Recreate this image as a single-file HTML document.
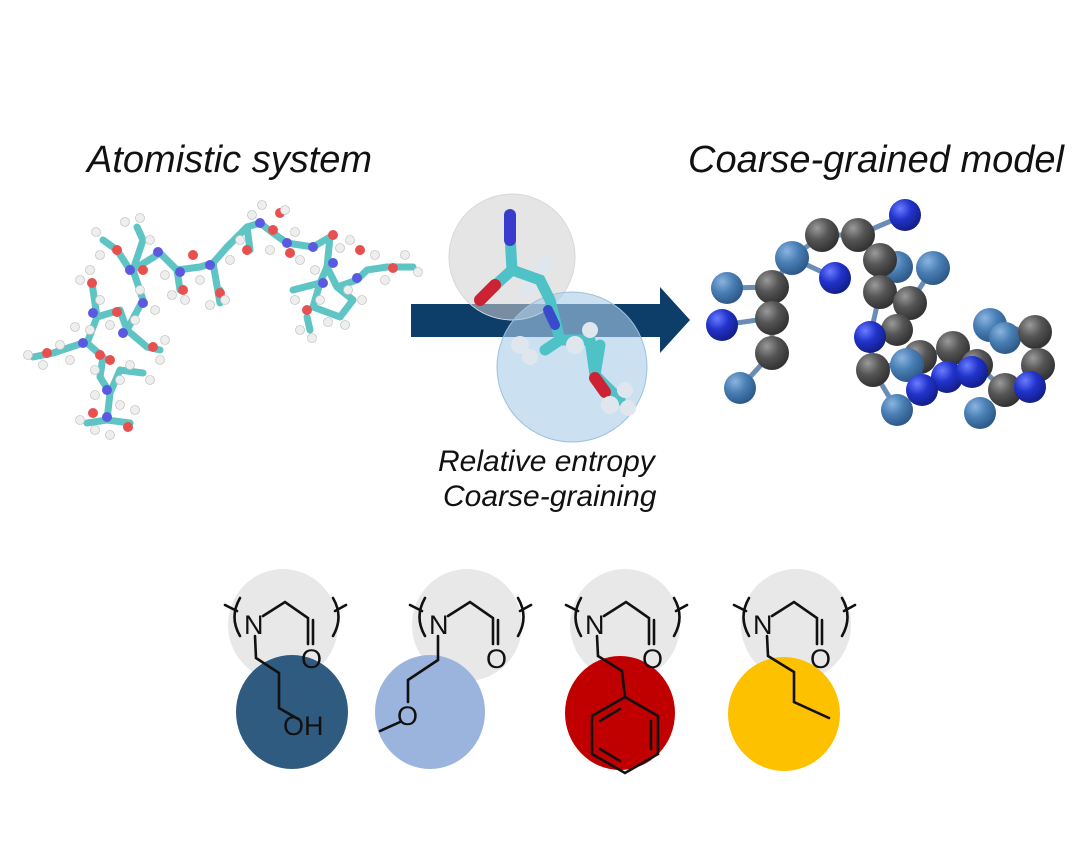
<!DOCTYPE html>
<html><head><meta charset="utf-8"><style>
html,body{margin:0;padding:0;background:#fff;}
svg{display:block}
text{font-family:"Liberation Sans",sans-serif}
</style></head><body>
<svg width="1089" height="853" viewBox="0 0 1089 853" xmlns="http://www.w3.org/2000/svg">
<defs>
<radialGradient id="gg" cx="35%" cy="30%" r="70%"><stop offset="0" stop-color="#9a9a9a"/><stop offset="0.5" stop-color="#555"/><stop offset="1" stop-color="#333"/></radialGradient>
<radialGradient id="sb" cx="35%" cy="30%" r="70%"><stop offset="0" stop-color="#8ab4e0"/><stop offset="0.5" stop-color="#4a7fb5"/><stop offset="1" stop-color="#2e5a8a"/></radialGradient>
<radialGradient id="rb" cx="35%" cy="30%" r="70%"><stop offset="0" stop-color="#6a7cff"/><stop offset="0.5" stop-color="#2233cc"/><stop offset="1" stop-color="#131f8a"/></radialGradient>
</defs>

<text x="87" y="172" font-size="38" font-style="italic" fill="#111">Atomistic system</text>
<text x="688" y="172" font-size="38" font-style="italic" fill="#111">Coarse-grained model</text>

<!-- atomistic cluster -->
<g stroke-linecap="round" stroke-linejoin="round" fill="none" stroke="#5ec4c4" stroke-width="7">
<path d="M130,423 L107,420 L110,393 L100,377 L103,357 L87,343 L97,317 L120,310 L127,330 L143,300 L133,270 L160,253 L177,270 L200,267 L213,263 L227,247 L247,227 L260,223 L273,233 L287,243 L313,247 L330,237 L327,267 L337,287 L357,280 L367,270 L387,267 L413,267"/>
<path d="M33,357 L53,353 L83,343"/>
<path d="M103,240 L117,250 L130,270 M137,227 L143,240 L133,270"/>
<path d="M293,290 L320,283 L313,307 L340,317 L353,300 L337,287 M307,317 L310,330 M320,283 L327,267"/>
<path d="M180,290 L177,270 M220,290 L220,303 L213,263 M250,250 L247,227"/>
<path d="M147,347 L160,350 M127,330 L147,347 M120,370 L143,373 M110,393 L120,370 M87,423 L107,420 M92,283 L97,317"/>
</g>
<g fill="#e85050">
<circle cx="92" cy="283" r="5"/><circle cx="117" cy="250" r="5"/><circle cx="143" cy="270" r="5"/><circle cx="193" cy="255" r="5"/><circle cx="183" cy="290" r="5"/><circle cx="220" cy="293" r="5"/><circle cx="247" cy="250" r="5"/><circle cx="273" cy="230" r="5"/><circle cx="280" cy="213" r="5"/><circle cx="290" cy="253" r="5"/><circle cx="333" cy="235" r="5"/><circle cx="360" cy="250" r="5"/><circle cx="307" cy="310" r="5"/><circle cx="393" cy="268" r="5"/><circle cx="117" cy="312" r="5"/><circle cx="153" cy="347" r="5"/><circle cx="47" cy="353" r="5"/><circle cx="100" cy="355" r="5"/><circle cx="110" cy="360" r="5"/><circle cx="128" cy="427" r="5"/><circle cx="93" cy="413" r="5"/>
</g>
<g fill="#5a5ae0">
<circle cx="130" cy="270" r="5"/><circle cx="158" cy="252" r="5"/><circle cx="180" cy="272" r="5"/><circle cx="210" cy="265" r="5"/><circle cx="260" cy="223" r="5"/><circle cx="287" cy="243" r="5"/><circle cx="313" cy="247" r="5"/><circle cx="333" cy="263" r="5"/><circle cx="357" cy="278" r="5"/><circle cx="323" cy="283" r="5"/><circle cx="93" cy="313" r="5"/><circle cx="123" cy="333" r="5"/><circle cx="83" cy="343" r="5"/><circle cx="107" cy="390" r="5"/><circle cx="107" cy="417" r="5"/><circle cx="143" cy="303" r="5"/>
</g>
<g fill="#eeeeee" stroke="#c8c8c8" stroke-width="0.8">
<circle cx="28" cy="355" r="4.5"/><circle cx="43" cy="365" r="4.5"/><circle cx="60" cy="345" r="4.5"/><circle cx="70" cy="360" r="4.5"/><circle cx="75" cy="327" r="4.5"/><circle cx="80" cy="280" r="4.5"/><circle cx="90" cy="270" r="4.5"/><circle cx="96" cy="232" r="4.5"/><circle cx="100" cy="255" r="4.5"/><circle cx="125" cy="222" r="4.5"/><circle cx="140" cy="218" r="4.5"/><circle cx="150" cy="240" r="4.5"/><circle cx="165" cy="275" r="4.5"/><circle cx="172" cy="295" r="4.5"/><circle cx="185" cy="300" r="4.5"/><circle cx="200" cy="280" r="4.5"/><circle cx="210" cy="305" r="4.5"/><circle cx="225" cy="300" r="4.5"/><circle cx="230" cy="260" r="4.5"/><circle cx="240" cy="240" r="4.5"/><circle cx="252" cy="215" r="4.5"/><circle cx="262" cy="205" r="4.5"/><circle cx="285" cy="210" r="4.5"/><circle cx="295" cy="232" r="4.5"/><circle cx="270" cy="250" r="4.5"/><circle cx="300" cy="260" r="4.5"/><circle cx="295" cy="300" r="4.5"/><circle cx="300" cy="330" r="4.5"/><circle cx="312" cy="338" r="4.5"/><circle cx="320" cy="300" r="4.5"/><circle cx="328" cy="322" r="4.5"/><circle cx="345" cy="325" r="4.5"/><circle cx="348" cy="290" r="4.5"/><circle cx="350" cy="240" r="4.5"/><circle cx="362" cy="300" r="4.5"/><circle cx="315" cy="270" r="4.5"/><circle cx="340" cy="248" r="4.5"/><circle cx="375" cy="255" r="4.5"/><circle cx="385" cy="280" r="4.5"/><circle cx="405" cy="255" r="4.5"/><circle cx="418" cy="272" r="4.5"/><circle cx="100" cy="300" r="4.5"/><circle cx="110" cy="325" r="4.5"/><circle cx="135" cy="320" r="4.5"/><circle cx="140" cy="290" r="4.5"/><circle cx="155" cy="310" r="4.5"/><circle cx="160" cy="360" r="4.5"/><circle cx="165" cy="340" r="4.5"/><circle cx="90" cy="330" r="4.5"/><circle cx="95" cy="370" r="4.5"/><circle cx="120" cy="380" r="4.5"/><circle cx="130" cy="365" r="4.5"/><circle cx="150" cy="380" r="4.5"/><circle cx="95" cy="395" r="4.5"/><circle cx="80" cy="420" r="4.5"/><circle cx="95" cy="430" r="4.5"/><circle cx="110" cy="435" r="4.5"/><circle cx="120" cy="405" r="4.5"/><circle cx="135" cy="410" r="4.5"/>
</g>

<!-- arrow -->
<path d="M411,304 L660,304 L660,287 L690,320 L660,353 L660,337 L411,337 Z" fill="#0d3e6a"/>
<circle cx="512" cy="257" r="63" fill="#cfcfcf" fill-opacity="0.55" stroke="#d8d8d8"/>
<circle cx="572" cy="367" r="75" fill="#a9cbe8" fill-opacity="0.6" stroke="#9fc0de"/>
<g stroke-linecap="round" fill="none">
<path d="M510,235 L512,270 L490,290 M512,270 L540,280 L550,300 L560,340 L545,350 M560,340 L590,340 L595,375 L620,400 M595,375 L600,345" stroke="#4fc2c8" stroke-width="11"/>
<path d="M510,215 L510,240" stroke="#3a3acc" stroke-width="12"/>
<path d="M480,300 L495,285" stroke="#cc2233" stroke-width="12"/>
<path d="M595,378 L605,392" stroke="#cc2233" stroke-width="12"/>
<path d="M548,310 L555,325" stroke="#3a4acc" stroke-width="10"/>
</g>
<g fill="#dfe6ee"><circle cx="545" cy="265" r="9"/><circle cx="527" cy="290" r="8"/><circle cx="520" cy="345" r="9"/><circle cx="530" cy="357" r="8"/><circle cx="575" cy="345" r="9"/><circle cx="590" cy="330" r="8"/><circle cx="625" cy="390" r="8"/><circle cx="610" cy="405" r="9"/><circle cx="628" cy="408" r="8"/></g>

<text x="438" y="471" font-size="30" font-style="italic" fill="#111">Relative entropy</text>
<text x="443" y="506" font-size="30" font-style="italic" fill="#111">Coarse-graining</text>

<!-- CG model -->
<g stroke="#6b8cb5" stroke-width="5" fill="none">
<path d="M740,388 L772,353 L772,287 L792,258 L822,235 L858,235 L905,215 M858,235 L880,260 L880,292 L870,337 L873,370 L897,410 M727,288 L772,287 M722,325 L772,318 M792,258 L835,278 M880,292 L910,303 L933,268 M873,370 L920,357 L953,348 L977,365 L1005,390 L1030,387 L1038,365 L1035,332 L990,325"/>
</g>
<g>
<circle cx="822" cy="235" r="17" fill="url(#gg)"/><circle cx="858" cy="235" r="17" fill="url(#gg)"/>
<circle cx="905" cy="215" r="16" fill="url(#rb)"/>
<circle cx="897" cy="267" r="16" fill="url(#sb)"/><circle cx="933" cy="268" r="17" fill="url(#sb)"/>
<circle cx="880" cy="260" r="17" fill="url(#gg)"/>
<circle cx="792" cy="258" r="17" fill="url(#sb)"/><circle cx="835" cy="278" r="16" fill="url(#rb)"/>
<circle cx="772" cy="287" r="17" fill="url(#gg)"/><circle cx="727" cy="288" r="16" fill="url(#sb)"/>
<circle cx="772" cy="318" r="17" fill="url(#gg)"/><circle cx="722" cy="325" r="16" fill="url(#rb)"/>
<circle cx="772" cy="353" r="17" fill="url(#gg)"/><circle cx="740" cy="388" r="16" fill="url(#sb)"/>
<circle cx="880" cy="292" r="17" fill="url(#gg)"/><circle cx="910" cy="303" r="17" fill="url(#gg)"/>
<circle cx="897" cy="330" r="16" fill="url(#gg)"/>
<circle cx="870" cy="337" r="16" fill="url(#rb)"/>
<circle cx="873" cy="370" r="17" fill="url(#gg)"/><circle cx="920" cy="357" r="17" fill="url(#gg)"/>
<circle cx="953" cy="348" r="17" fill="url(#gg)"/><circle cx="977" cy="365" r="16" fill="url(#gg)"/>
<circle cx="990" cy="325" r="17" fill="url(#sb)"/><circle cx="1005" cy="338" r="16" fill="url(#sb)"/>
<circle cx="1035" cy="332" r="17" fill="url(#gg)"/><circle cx="1038" cy="365" r="17" fill="url(#gg)"/>
<circle cx="947" cy="377" r="16" fill="url(#rb)"/>
<circle cx="907" cy="365" r="17" fill="url(#sb)"/>
<circle cx="972" cy="372" r="16" fill="url(#rb)"/>
<circle cx="1005" cy="390" r="17" fill="url(#gg)"/><circle cx="1030" cy="387" r="16" fill="url(#rb)"/>
<circle cx="922" cy="390" r="16" fill="url(#rb)"/>
<circle cx="897" cy="410" r="16" fill="url(#sb)"/><circle cx="980" cy="413" r="16" fill="url(#sb)"/>
</g>

<!-- bottom -->
<g fill="#e9e8e8">
<ellipse cx="283" cy="625" rx="55" ry="56"/><ellipse cx="467" cy="625" rx="55" ry="56"/>
<ellipse cx="625" cy="625" rx="55" ry="56"/><ellipse cx="796" cy="625" rx="55" ry="56"/>
</g>
<ellipse cx="292" cy="712" rx="56" ry="57" fill="#2f5b80"/>
<ellipse cx="430" cy="712" rx="55" ry="57" fill="#9bb4dd"/>
<ellipse cx="620" cy="713" rx="55" ry="57" fill="#c00000"/>
<ellipse cx="784" cy="714" rx="56" ry="57" fill="#fdc100"/>

<g stroke="#111" stroke-width="2.6" fill="none" stroke-linecap="round">
<g id="u1">
<path d="M225,605 L237,611 M240,598 Q229,617 240,636"/>
<path d="M263,616 L285,602 L308,618 L308,644 M313,620 L313,644"/>
<path d="M333,598 Q344,617 333,636 M335,611 L346,605"/>
</g>
<use href="#u1" transform="translate(185,0)"/>
<use href="#u1" transform="translate(341,0)"/>
<use href="#u1" transform="translate(509,0)"/>
<path d="M255,636 L256,658 L279,673 L279,708 L298,719"/>
<path d="M438,636 L438,660 L408,680 L408,702 M400,722 L380,731"/>
<path d="M597,636 L598,656 L622,671 L625,697"/>
<path d="M625,697 L658,716 L658,754 L625,773 L592,754 L592,716 Z M600,721 L620,709 M651,721 L651,749 M600,749 L620,761"/>
<path d="M767,636 L768,656 L794,672 L794,702 L829,718"/>
</g>
<g font-size="27" fill="#111">
<text x="244" y="634">N</text><text x="301" y="668">O</text><text x="283" y="735">OH</text>
<text x="429" y="634">N</text><text x="486" y="668">O</text><text x="397" y="725">O</text>
<text x="585" y="634">N</text><text x="642" y="668">O</text>
<text x="753" y="634">N</text><text x="810" y="668">O</text>
</g>
</svg>
</body></html>
